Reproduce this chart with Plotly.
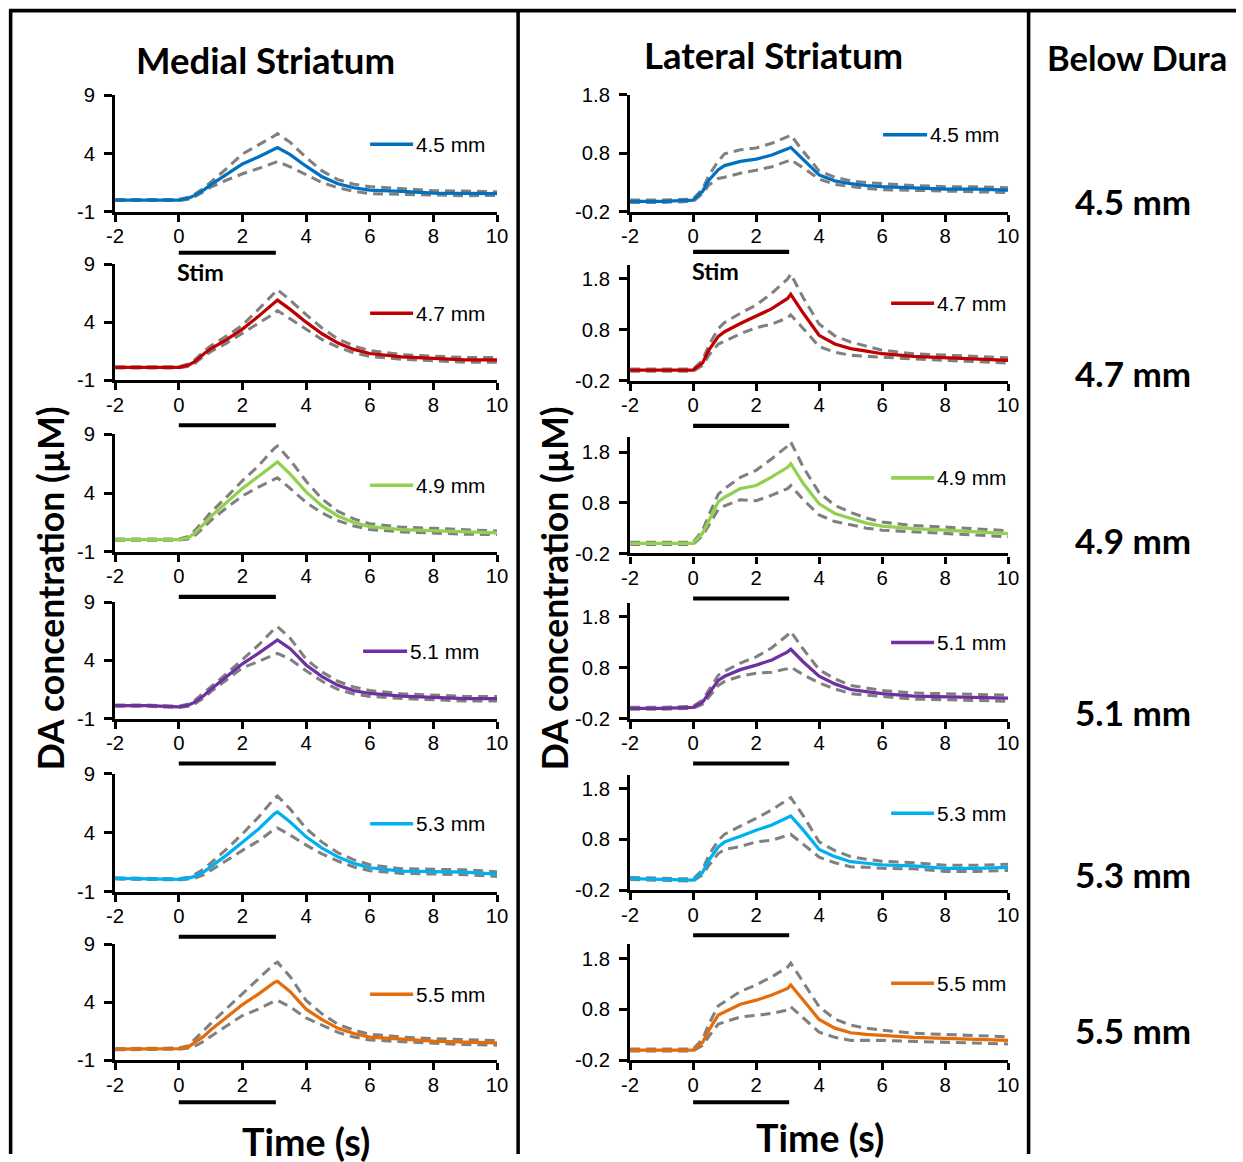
import plotly.graph_objects as go

# Target page is 1243 x 1162. The page is captured at a slight zoom-out with the
# default body margin, so page positions are converted to figure pixels below.
PAGE_W, PAGE_H = 1243, 1162
ZOOM = 0.984
PAD = 8
W = round(PAGE_W / ZOOM - 2 * PAD)
H = round(PAGE_H / ZOOM - 2 * PAD)
K = 1 / ZOOM  # size factor for fonts and strokes

# ---------------------------------------------------------------- data
TIME = [-2, -1, 0, 0.3, 0.5, 0.8, 1, 1.5, 2, 2.5, 3, 3.1, 3.5, 4, 4.5, 5, 5.5, 6, 7, 8, 9, 10]
DEPTHS = ["4.5 mm", "4.7 mm", "4.9 mm", "5.1 mm", "5.3 mm", "5.5 mm"]
COLORS = ["#0070C0", "#C00000", "#92D050", "#7030A0", "#00B0F0", "#E46C0A"]
STIM_WINDOW = [0.0, 3.05]
X_TICKS = [-2, 0, 2, 4, 6, 8, 10]
MED_Y_TICKS = [-1, 4, 9]
LAT_Y_TICKS = [-0.2, 0.8, 1.8]
MED_Y_RANGE = [-1, 9]
LAT_Y_MIN = -0.2
LAT_Y_MAX = [1.8, 2.06, 2.1, 2.06, 2.06, 2.08]

# Medial striatum: mean DA (µM) and SEM at each depth
med_45_mean = [0.0, 0.0, 0.0, 0.15, 0.4, 0.9, 1.3, 2.2, 3.1, 3.7, 4.35, 4.5, 3.9, 2.9, 2.0, 1.4, 1.05, 0.85, 0.75, 0.6, 0.57, 0.55]
med_45_sem = [0.05, 0.05, 0.05, 0.08, 0.1, 0.15, 0.2, 0.5, 0.85, 1.0, 1.15, 1.2, 1.05, 0.75, 0.5, 0.35, 0.3, 0.3, 0.25, 0.2, 0.2, 0.15]
med_47_mean = [0.1, 0.1, 0.1, 0.3, 0.6, 1.3, 1.7, 2.5, 3.4, 4.5, 5.6, 5.9, 5.1, 4.0, 3.0, 2.2, 1.65, 1.3, 1.0, 0.87, 0.75, 0.75]
med_47_sem = [0.05, 0.05, 0.05, 0.1, 0.15, 0.2, 0.25, 0.3, 0.35, 0.6, 0.85, 0.9, 0.8, 0.65, 0.5, 0.35, 0.3, 0.25, 0.2, 0.2, 0.2, 0.2]
med_49_mean = [0.05, 0.05, 0.05, 0.2, 0.6, 1.4, 2.0, 3.2, 4.4, 5.4, 6.5, 6.65, 5.6, 4.1, 2.9, 2.05, 1.5, 1.15, 0.9, 0.8, 0.7, 0.62]
med_49_sem = [0.05, 0.05, 0.05, 0.1, 0.2, 0.3, 0.35, 0.45, 0.65, 0.9, 1.3, 1.35, 1.2, 0.9, 0.6, 0.4, 0.3, 0.25, 0.2, 0.2, 0.2, 0.15]
med_51_mean = [0.1, 0.1, 0.0, 0.15, 0.4, 1.0, 1.5, 2.6, 3.7, 4.6, 5.6, 5.75, 5.0, 3.6, 2.6, 1.85, 1.4, 1.15, 0.92, 0.8, 0.7, 0.7]
med_51_sem = [0.05, 0.05, 0.05, 0.1, 0.15, 0.2, 0.2, 0.25, 0.35, 0.7, 1.1, 1.15, 0.9, 0.5, 0.4, 0.35, 0.3, 0.25, 0.2, 0.2, 0.2, 0.2]
med_53_mean = [0.13, 0.1, 0.05, 0.15, 0.3, 0.7, 1.1, 2.1, 3.2, 4.3, 5.6, 5.76, 4.9, 3.65, 2.7, 1.95, 1.4, 1.03, 0.75, 0.7, 0.65, 0.5]
med_53_sem = [0.05, 0.05, 0.05, 0.08, 0.15, 0.25, 0.3, 0.5, 0.7, 1.0, 1.3, 1.35, 1.1, 0.7, 0.5, 0.35, 0.3, 0.25, 0.2, 0.2, 0.2, 0.2]
med_55_mean = [-0.05, -0.05, 0.0, 0.15, 0.5, 1.1, 1.6, 2.7, 3.8, 4.7, 5.7, 5.8, 4.9, 3.4, 2.5, 1.75, 1.3, 1.0, 0.8, 0.65, 0.55, 0.5]
med_55_sem = [0.05, 0.05, 0.05, 0.1, 0.3, 0.45, 0.55, 0.75, 0.95, 1.3, 1.6, 1.65, 1.3, 0.75, 0.5, 0.35, 0.3, 0.25, 0.2, 0.2, 0.2, 0.2]

# Lateral striatum: mean DA (µM) and SEM at each depth
lat_45_mean = [-0.02, -0.02, 0.0, 0.15, 0.34, 0.52, 0.59, 0.66, 0.7, 0.77, 0.875, 0.9, 0.69, 0.43, 0.33, 0.28, 0.25, 0.23, 0.21, 0.19, 0.19, 0.17]
lat_45_sem = [0.02, 0.02, 0.02, 0.04, 0.08, 0.15, 0.2, 0.2, 0.19, 0.2, 0.21, 0.21, 0.14, 0.07, 0.06, 0.05, 0.05, 0.05, 0.04, 0.04, 0.04, 0.04]
lat_47_mean = [0.01, 0.01, 0.01, 0.15, 0.4, 0.67, 0.76, 0.92, 1.06, 1.21, 1.41, 1.49, 1.12, 0.69, 0.52, 0.43, 0.38, 0.33, 0.28, 0.25, 0.23, 0.2]
lat_47_sem = [0.02, 0.02, 0.02, 0.05, 0.1, 0.15, 0.18, 0.2, 0.22, 0.3, 0.38, 0.4, 0.3, 0.22, 0.16, 0.13, 0.1, 0.07, 0.05, 0.05, 0.05, 0.05]
lat_49_mean = [0.0, 0.0, 0.0, 0.2, 0.46, 0.82, 0.91, 1.08, 1.14, 1.31, 1.5, 1.57, 1.18, 0.78, 0.59, 0.49, 0.4, 0.34, 0.29, 0.26, 0.22, 0.19]
lat_49_sem = [0.02, 0.02, 0.02, 0.05, 0.1, 0.15, 0.17, 0.22, 0.3, 0.36, 0.42, 0.43, 0.32, 0.22, 0.16, 0.12, 0.1, 0.08, 0.06, 0.06, 0.06, 0.06]
lat_51_mean = [0.0, 0.0, 0.02, 0.12, 0.29, 0.55, 0.63, 0.76, 0.85, 0.95, 1.11, 1.16, 0.91, 0.63, 0.48, 0.37, 0.33, 0.29, 0.24, 0.23, 0.22, 0.2]
lat_51_sem = [0.02, 0.02, 0.02, 0.04, 0.07, 0.1, 0.1, 0.13, 0.16, 0.24, 0.33, 0.35, 0.25, 0.13, 0.1, 0.08, 0.07, 0.06, 0.06, 0.06, 0.06, 0.06]
lat_53_mean = [0.03, 0.02, 0.0, 0.15, 0.39, 0.65, 0.75, 0.86, 0.98, 1.08, 1.23, 1.26, 0.98, 0.6, 0.46, 0.36, 0.33, 0.3, 0.28, 0.23, 0.23, 0.25]
lat_53_sem = [0.02, 0.02, 0.02, 0.05, 0.1, 0.13, 0.15, 0.2, 0.23, 0.3, 0.36, 0.36, 0.28, 0.15, 0.12, 0.1, 0.08, 0.07, 0.06, 0.06, 0.06, 0.06]
lat_55_mean = [0.0, 0.0, 0.0, 0.15, 0.39, 0.69, 0.75, 0.9, 0.98, 1.08, 1.21, 1.28, 0.98, 0.6, 0.43, 0.34, 0.31, 0.29, 0.25, 0.23, 0.21, 0.19]
lat_55_sem = [0.02, 0.02, 0.02, 0.06, 0.12, 0.18, 0.2, 0.25, 0.3, 0.36, 0.42, 0.43, 0.35, 0.25, 0.18, 0.15, 0.12, 0.1, 0.08, 0.08, 0.07, 0.07]

MEDIAL = [(med_45_mean, med_45_sem), (med_47_mean, med_47_sem), (med_49_mean, med_49_sem),
          (med_51_mean, med_51_sem), (med_53_mean, med_53_sem), (med_55_mean, med_55_sem)]
LATERAL = [(lat_45_mean, lat_45_sem), (lat_47_mean, lat_47_sem), (lat_49_mean, lat_49_sem),
           (lat_51_mean, lat_51_sem), (lat_53_mean, lat_53_sem), (lat_55_mean, lat_55_sem)]

# ---------------------------------------------------------------- layout helpers
ARIAL = "Liberation Sans, Arial, sans-serif"
BOLD_FAMILY = "Lato, Carlito, sans-serif"
TICK_FONT = dict(family=ARIAL, size=20 * K, color="black")
KEY_FONT = dict(family=ARIAL, size=20.5 * K, color="black")
GRAY = "#808080"


def fx(px):
    """page x pixel -> paper fraction"""
    px = px - 1
    return (px / ZOOM - PAD) / W


def fy(py):
    """page y pixel -> paper fraction"""
    py = (py - 3) / 0.997
    return 1 - (py / ZOOM - PAD) / H


# page-pixel boxes of each panel column
COLS = [
    dict(left=115, right=497,
         rows=[(95, 211.5), (264, 380), (434, 551.7), (602, 718.3), (773.5, 891.5), (944, 1060)],
         legend_line=[(370, 413)] * 3 + [(363, 407)] + [(370, 413)] * 2,
         legend_dy=[49, 49, 51, 49, 50, 50],
         stim_dy=[41, 45, 45, 45, 45, 42]),
    dict(left=630, right=1008,
         rows=[(94.5, 211.7), (265, 380.7), (436.7, 553.3), (603.3, 718.3), (775, 890), (944, 1060)],
         legend_line=[(883, 927)] + [(891, 934)] * 5,
         legend_dy=[40, 38, 41, 39, 38, 39],
         stim_dy=[40, 45, 45, 45, 45, 42]),
]

fig = go.Figure()
layout = dict(
    width=W, height=H,
    margin=dict(l=0, r=0, t=0, b=0),
    paper_bgcolor="white", plot_bgcolor="white",
    showlegend=False,
)
shapes = []
annotations = []

for c, (col, data) in enumerate(zip(COLS, [MEDIAL, LATERAL])):
    for r, (mean, sem) in enumerate(data):
        n = c * 6 + r + 1
        xa = "x" if n == 1 else f"x{n}"
        ya = "y" if n == 1 else f"y{n}"
        top, bottom = col["rows"][r]
        upper = [m + s for m, s in zip(mean, sem)]
        lower = [m - s for m, s in zip(mean, sem)]
        for band in (upper, lower):
            fig.add_trace(go.Scatter(x=TIME, y=band, mode="lines", xaxis=xa, yaxis=ya,
                                     line=dict(color=GRAY, width=3 * K, dash="10px,6px"),
                                     hoverinfo="skip"))
        fig.add_trace(go.Scatter(x=TIME, y=mean, mode="lines", xaxis=xa, yaxis=ya,
                                 line=dict(color=COLORS[r], width=3.2 * K), name=DEPTHS[r]))

        if c == 0:
            yr = MED_Y_RANGE
            yt = MED_Y_TICKS
            ytext = [str(v) for v in MED_Y_TICKS]
        else:
            yr = [LAT_Y_MIN, LAT_Y_MAX[r]]
            yt = LAT_Y_TICKS
            ytext = [f"{v:.1f}" for v in LAT_Y_TICKS]

        layout["xaxis" if n == 1 else f"xaxis{n}"] = dict(
            domain=[fx(col["left"]), fx(col["right"])], anchor=ya,
            range=[-2, 10], tickvals=X_TICKS, ticktext=[str(v) for v in X_TICKS],
            showline=True, linecolor="black", linewidth=3 * K,
            ticks="outside", ticklen=7, tickwidth=3 * K, tickcolor="black",
            showgrid=False, zeroline=False, tickfont=TICK_FONT, ticklabelstandoff=-3,
            fixedrange=True,
        )
        layout["yaxis" if n == 1 else f"yaxis{n}"] = dict(
            domain=[fy(bottom), fy(top)], anchor=xa,
            range=yr, tickvals=yt, ticktext=ytext,
            showline=True, linecolor="black", linewidth=3 * K,
            ticks="outside", ticklen=8, tickwidth=3 * K, tickcolor="black",
            showgrid=False, zeroline=False, tickfont=TICK_FONT, ticklabelstandoff=5,
            fixedrange=True,
        )

        # stimulation bar under the time axis
        sy = fy(bottom + col["stim_dy"][r])
        shapes.append(dict(type="line", xref=xa, yref="paper",
                           x0=STIM_WINDOW[0], x1=STIM_WINDOW[1], y0=sy, y1=sy,
                           line=dict(color="black", width=4 * K)))

        # series key
        lx0, lx1 = col["legend_line"][r]
        ly = fy(top + col["legend_dy"][r])
        shapes.append(dict(type="line", xref="paper", yref="paper",
                           x0=fx(lx0), x1=fx(lx1), y0=ly, y1=ly,
                           line=dict(color=COLORS[r], width=3.5 * K)))
        annotations.append(dict(xref="paper", yref="paper", x=fx(lx1 + 1), y=ly,
                                xanchor="left", yanchor="middle", showarrow=False,
                                text=DEPTHS[r], font=KEY_FONT))

    # "Stim" label under the first bar
    annotations.append(dict(xref="paper", yref="paper",
                            x=fx(col["left"] + 60), y=fy(col["rows"][0][1] + col["stim_dy"][0] + 19),
                            xanchor="left", yanchor="middle", showarrow=False,
                            text="<b>Stim</b>", font=dict(family=BOLD_FAMILY, size=23 * K, color="black")))

for text, x, y, size in [("Medial Striatum", 265, 60, 36), ("Lateral Striatum", 773, 55, 36),
                         ("Below Dura", 1137, 57, 34)]:
    annotations.append(dict(xref="paper", yref="paper", x=fx(x), y=fy(y), xanchor="center",
                            yanchor="middle", showarrow=False, text=f"<b>{text}</b>",
                            font=dict(family=BOLD_FAMILY, size=size * K, color="black")))

for text, x, y in [("Time (s)", 306, 1141), ("Time (s)", 820, 1137)]:
    annotations.append(dict(xref="paper", yref="paper", x=fx(x), y=fy(y), xanchor="center",
                            yanchor="middle", showarrow=False, text=f"<b>{text}</b>",
                            font=dict(family=BOLD_FAMILY, size=37 * K, color="black")))

for x in (50, 554):
    annotations.append(dict(xref="paper", yref="paper", x=fx(x), y=fy(588), xanchor="center",
                            yanchor="middle", showarrow=False, textangle=-90,
                            text="<b>DA concentration (µM)</b>",
                            font=dict(family=BOLD_FAMILY, size=35 * K, color="black")))

# depth labels in the right-hand column
for text, y in zip(DEPTHS, [201, 373, 540, 712, 874, 1030]):
    annotations.append(dict(xref="paper", yref="paper", x=fx(1133), y=fy(y), xanchor="center",
                            yanchor="middle", showarrow=False, text=f"<b>{text}</b>",
                            font=dict(family=BOLD_FAMILY, size=34.5 * K, color="black")))

# panel frame
FRAME = dict(color="black", width=3.5 * K)
shapes += [
    dict(type="line", xref="paper", yref="paper", x0=fx(9), x1=1, y0=fy(10.5), y1=fy(10.5), line=FRAME),
    dict(type="line", xref="paper", yref="paper", x0=fx(10.5), x1=fx(10.5), y0=fy(9), y1=0, line=FRAME),
    dict(type="line", xref="paper", yref="paper", x0=fx(518), x1=fx(518), y0=fy(9), y1=0, line=FRAME),
    dict(type="line", xref="paper", yref="paper", x0=fx(1028.5), x1=fx(1028.5), y0=fy(9), y1=0, line=FRAME),
]

layout["shapes"] = shapes
layout["annotations"] = annotations
fig.update_layout(**layout)
fig.write_html("out.html", config=dict(displayModeBar=False))
